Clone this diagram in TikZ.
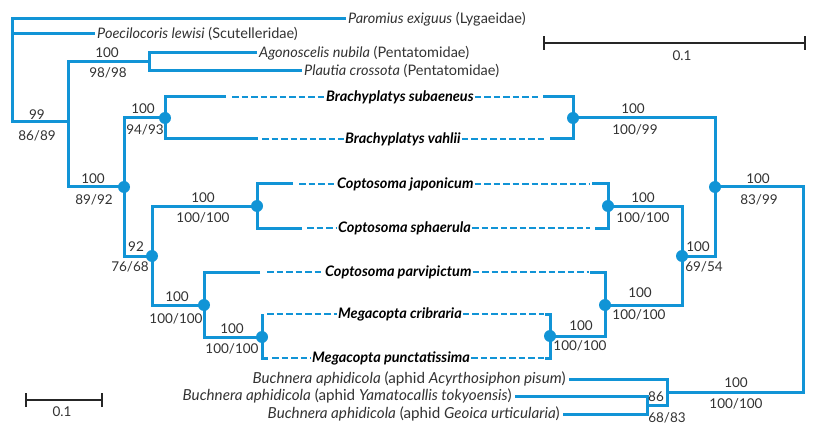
\documentclass[tikz,border=0pt]{standalone}
\usepackage{fontspec}
\setmainfont{Lato}
\definecolor{tb}{RGB}{17,148,214}
\definecolor{tg}{RGB}{50,50,50}
\begin{document}
\begin{tikzpicture}[x=1pt,y=-1pt,
  br/.style={draw=tb, line width=3pt, line join=miter},
  dsh/.style={draw=tb, line width=1.5pt, dash pattern=on 6.5pt off 3pt},
  dot/.style={circle, fill=tb, inner sep=0pt, minimum size=12pt},
  lab/.style={font=\fontsize{13.5}{15}\selectfont, text=tg, inner sep=0pt},
  leaf/.style={font=\fontsize{14.5}{16}\selectfont, text=tg, inner sep=0pt, anchor=west},
  bleaf/.style={font=\fontsize{14.5}{16}\selectfont\bfseries\itshape, text=black, inner sep=0pt, anchor=west},
  bucleaf/.style={font=\fontsize{15.2}{17}\selectfont, text=tg, inner sep=0pt, anchor=east},
  sbar/.style={draw=black!85, line width=1.5pt}]
\useasboundingbox (0,0) rectangle (817,441);
% leaves
\node[leaf] (pa) at (348,19) {\textit{Paromius exiguus} (Lygaeidae)};
\node[leaf] (po) at (97,34) {\textit{Poecilocoris lewisi} (Scutelleridae)};
\node[leaf] (ag) at (259,53) {\textit{Agonoscelis nubila} (Pentatomidae)};
\node[leaf] (pl) at (304,71) {\textit{Plautia crossota} (Pentatomidae)};
\node[bleaf] (bs) at (326,97) {Brachyplatys subaeneus};
\node[bleaf] (bv) at (345,139) {Brachyplatys vahlii};
\node[bleaf] (cj) at (337,184) {Coptosoma japonicum};
\node[bleaf] (cs) at (338,228) {Coptosoma sphaerula};
\node[bleaf] (cp) at (325,272) {Coptosoma parvipictum};
\node[bleaf] (mc) at (338,314) {Megacopta cribraria};
\node[bleaf] (mp) at (312,358) {Megacopta punctatissima};
\node[bucleaf] (ba) at (566,379) {\textit{Buchnera aphidicola} (aphid \textit{Acyrthosiphon pisum})};
\node[bucleaf] (by) at (512,396) {\textit{Buchnera aphidicola} (aphid \textit{Yamatocallis tokyoensis})};
\node[bucleaf] (bg) at (560,414) {\textit{Buchnera aphidicola} (aphid \textit{Geoica urticularia})};
% internal coordinates
\coordinate (n1) at (68,122);
\coordinate (n2) at (149,62);
\coordinate (n3) at (124,187);
\coordinate (n4) at (165,118);
\coordinate (n5) at (573,118);
\coordinate (n6) at (152,256);
\coordinate (n7) at (715,187);
\coordinate (n8) at (667,392);
\coordinate (n9) at (682,256);
\coordinate (n10) at (647,405);
\coordinate (n11) at (257,206);
\coordinate (n12) at (608,206);
\coordinate (n13) at (204,305);
\coordinate (n14) at (605,305);
\coordinate (n15) at (262,337);
\coordinate (n16) at (550,336);
% outgroups
\draw[br] ([xshift=-2pt]pa.west) -| (12,122) -- (n1);
\draw[br] (12,34) -- ([xshift=-2pt]po.west);
\draw[br] (n2) -| (n1) |- (n3);
\draw[br] ([xshift=-2pt]ag.west) -| (n2) |- ([xshift=-2pt]pl.west);
% Brachyplatys
\draw[br] (n4) -| (124,256) -- (n6);
\draw[br] (226,97) -| (n4) |- (258,139);
\draw[dsh] (232,97) -- ([xshift=-1pt]bs.west);
\draw[dsh] ([xshift=1pt]bs.east) -- (540,97);
\draw[dsh] (262,139) -- ([xshift=-1pt]bv.west);
\draw[dsh] ([xshift=1pt]bv.east) -- (547,139);
\draw[br] (543,97) -| (n5) |- (550,139);
\draw[br] (n5) -| (715,256) -- (n9);
\draw[br] (n7) -| (803,392) -- (n8);
% Coptosoma
\draw[br] (n11) -| (152,305) -- (n13);
\draw[br] (293,184) -| (n11) |- (302,228);
\draw[dsh] (299,184) -- ([xshift=-1pt]cj.west);
\draw[dsh] ([xshift=1pt]cj.east) -- (590,184);
\draw[dsh] (307,228) -- ([xshift=-1pt]cs.west);
\draw[dsh] ([xshift=1pt]cs.east) -- (590,228);
\draw[br] (592,184) -| (n12) |- (595,228);
\draw[br] (n12) -| (682,305) -- (n14);
% parvipictum + Megacopta
\draw[br] (260,272) -| (n13) |- (n15);
\draw[dsh] (267,272) -- ([xshift=-1pt]cp.west);
\draw[dsh] ([xshift=1pt]cp.east) -- (589,272);
\draw[br] (262,314) -- (262,358) -- (268,358);
\draw[dsh] (267,314) -- ([xshift=-1pt]mc.west);
\draw[dsh] ([xshift=1pt]mc.east) -- (544,314);
\draw[dsh] (272,358) -- ([xshift=-1pt]mp.west);
\draw[dsh] ([xshift=1pt]mp.east) -- (544,358);
\draw[br] (545,314) -| (n16) |- (545,358);
\draw[br] (n16) -| (n14) |- (590,272);
% Buchnera
\draw[br] ([xshift=3pt]ba.east) -| (n8) |- (n10);
\draw[br] ([xshift=3pt]by.east) -| (n10) |- ([xshift=3pt]bg.east);
% dots
\foreach \n in {n3,n4,n5,n6,n7,n9,n11,n12,n13,n14,n15,n16}
  \node[dot] at (\n) {};
% support labels
\node[lab] (l1a) at (37,115) {99};
\node[lab] (l1b) at (37,136) {86/89};
\node[lab] (l2a) at (107,53) {100};
\node[lab] (l2b) at (108,73) {98/98};
\node[lab] (l3a) at (93,179) {100};
\node[lab] (l3b) at (94,200) {89/92};
\node[lab] (l4a) at (143,109) {100};
\node[lab] (l4b) at (145,130) {94/93};
\node[lab] (l5a) at (633,109) {100};
\node[lab] (l5b) at (635,130) {100/99};
\node[lab] (l7a) at (758,179) {100};
\node[lab] (l7b) at (759,200) {83/99};
\node[lab] (l8a) at (736,383) {100};
\node[lab] (l8b) at (736,404) {100/100};
\node[lab] (l10a) at (656,397) {86};
\node[lab] (l10b) at (667,418) {68/83};
\node[lab] (l11a) at (203,198) {100};
\node[lab] (l11b) at (203,218) {100/100};
\node[lab] (l12a) at (643,198) {100};
\node[lab] (l12b) at (643,218) {100/100};
\node[lab] (l6a) at (136,247) {92};
\node[lab] (l6b) at (130,267) {76/68};
\node[lab] (l9a) at (698,247) {100};
\node[lab] (l9b) at (704,267) {69/54};
\node[lab] (l13a) at (177,297) {100};
\node[lab] (l13b) at (176,319) {100/100};
\node[lab] (l14a) at (640,293) {100};
\node[lab] (l14b) at (639,315) {100/100};
\node[lab] (l15a) at (232,329) {100};
\node[lab] (l15b) at (232,349) {100/100};
\node[lab] (l16a) at (581,326) {100};
\node[lab] (l16b) at (580,346) {100/100};
% scale bars
\coordinate (s1) at (544,43);
\coordinate (s2) at (805,43);
\draw[sbar] (s1) -- (s2);
\draw[sbar] ([yshift=-7pt]s1) -- ([yshift=7pt]s1);
\draw[sbar] ([yshift=-7pt]s2) -- ([yshift=7pt]s2);
\node[lab] (st) at (682,56) {0.1};
\coordinate (s3) at (26,400);
\coordinate (s4) at (102,400);
\draw[sbar] (s3) -- (s4);
\draw[sbar] ([yshift=-7pt]s3) -- ([yshift=7pt]s3);
\draw[sbar] ([yshift=-7pt]s4) -- ([yshift=7pt]s4);
\node[lab] (sb) at (62,412) {0.1};
\end{tikzpicture}
\end{document}
